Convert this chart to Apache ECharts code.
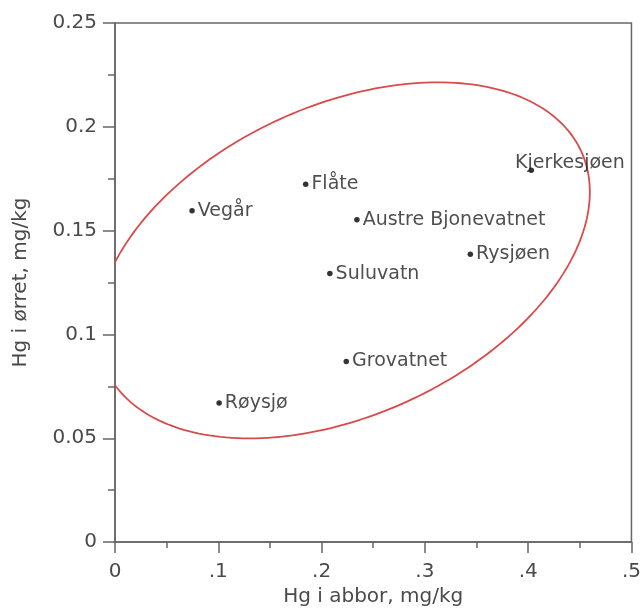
<!DOCTYPE html>
<html>
<head>
<meta charset="utf-8">
<script src="https://cdn.jsdelivr.net/npm/echarts@6/dist/echarts.min.js"></script>
<style>
html,body{margin:0;padding:0;background:#fff;}
#chart{width:644px;height:612px;}
</style>
</head>
<body>
<div id="chart"></div>
<script>
// Data
const lakes = ['Vegår', 'Flåte', 'Austre Bjonevatnet', 'Suluvatn', 'Rysjøen', 'Kjerkesjøen', 'Grovatnet', 'Røysjø'];
const hgAbbor = [0.0746, 0.1846, 0.2342, 0.2080, 0.3440, 0.4030, 0.2239, 0.1008];
const hgOrret = [0.1596, 0.1724, 0.1552, 0.1293, 0.1386, 0.1791, 0.0870, 0.0670];
const xTickLabels = ['0', '.1', '.2', '.3', '.4', '.5'];
const yTickLabels = ['0', '0.05', '0.1', '0.15', '0.2', '0.25'];
// Ellipse (data units): centre and two conjugate semi-diameters
const ellipseCenter = [0.2212, 0.1357];
const ellipseAxisA = [0.2303, 0.05235];
const ellipseAxisB = [0.0620, -0.0679];

const labelOffsets = { 'Kjerkesjøen': [-22, -7] };

const chart = echarts.init(document.getElementById('chart'), null, { renderer: 'canvas' });
const FONT = 'DejaVu Sans';
const axisColor = '#666';

const option = {
  animation: false,
  backgroundColor: '#fff',
  grid: {
    left: 115, right: 8, top: 23, bottom: 67,
    show: true, borderColor: axisColor, borderWidth: 1.5, backgroundColor: 'transparent'
  },
  xAxis: {
    type: 'value', min: 0, max: 0.5, interval: 0.1,
    name: 'Hg i abbor, mg/kg', nameLocation: 'middle', nameGap: 40,
    nameTextStyle: { fontFamily: FONT, fontSize: 20, color: '#4a4a4a' },
    axisLine: { show: true, onZero: false, lineStyle: { color: axisColor, width: 1.5 } },
    axisTick: { show: true, length: 11, lineStyle: { color: axisColor, width: 1.5 } },
    minorTick: { show: true, splitNumber: 2, length: 6, lineStyle: { color: axisColor, width: 1.5 } },
    splitLine: { show: false },
    axisLabel: {
      margin: 20, fontFamily: FONT, fontSize: 20, color: '#4a4a4a',
      formatter: v => xTickLabels[Math.round(v / 0.1)]
    }
  },
  yAxis: {
    type: 'value', min: 0, max: 0.25, interval: 0.05,
    name: 'Hg i ørret, mg/kg', nameLocation: 'middle', nameGap: 84, nameRotate: 90,
    nameTextStyle: { fontFamily: FONT, fontSize: 20, color: '#4a4a4a' },
    axisLine: { show: true, onZero: false, lineStyle: { color: axisColor, width: 1.5 } },
    axisTick: { show: true, length: 12, lineStyle: { color: axisColor, width: 1.5 } },
    minorTick: { show: true, splitNumber: 2, length: 7, lineStyle: { color: axisColor, width: 1.5 } },
    splitLine: { show: false },
    axisLabel: {
      margin: 18, fontFamily: FONT, fontSize: 20, color: '#4a4a4a',
      formatter: v => yTickLabels[Math.round(v / 0.05)]
    }
  },
  series: [
    {
      type: 'custom',
      coordinateSystem: 'cartesian2d',
      silent: true,
      clip: true,
      data: [ellipseCenter],
      renderItem: function (params, api) {
        const pts = [];
        const N = 240;
        for (let i = 0; i <= N; i++) {
          const t = 2 * Math.PI * i / N;
          const x = ellipseCenter[0] + ellipseAxisA[0] * Math.cos(t) + ellipseAxisB[0] * Math.sin(t);
          const y = ellipseCenter[1] + ellipseAxisA[1] * Math.cos(t) + ellipseAxisB[1] * Math.sin(t);
          pts.push(api.coord([x, y]));
        }
        const cs = params.coordSys;
        return {
          type: 'polygon',
          shape: { points: pts },
          style: { fill: 'none', stroke: '#d94b4b', lineWidth: 1.8 },
          clipPath: { type: 'rect', shape: { x: cs.x, y: cs.y, width: cs.width, height: cs.height } }
        };
      }
    },
    {
      type: 'scatter',
      symbol: 'circle',
      symbolSize: 5.5,
      itemStyle: { color: '#000' },
      z: 5,
      data: lakes.map((n, i) => ({
        name: n,
        value: [hgAbbor[i], hgOrret[i]],
        label: labelOffsets[n] ? { offset: labelOffsets[n] } : undefined
      })),
      label: {
        show: true,
        position: 'right',
        distance: 3,
        formatter: p => p.name,
        fontFamily: FONT,
        fontSize: 19,
        color: '#222'
      }
    }
  ]
};
chart.setOption(option);
</script>
</body>
</html>
